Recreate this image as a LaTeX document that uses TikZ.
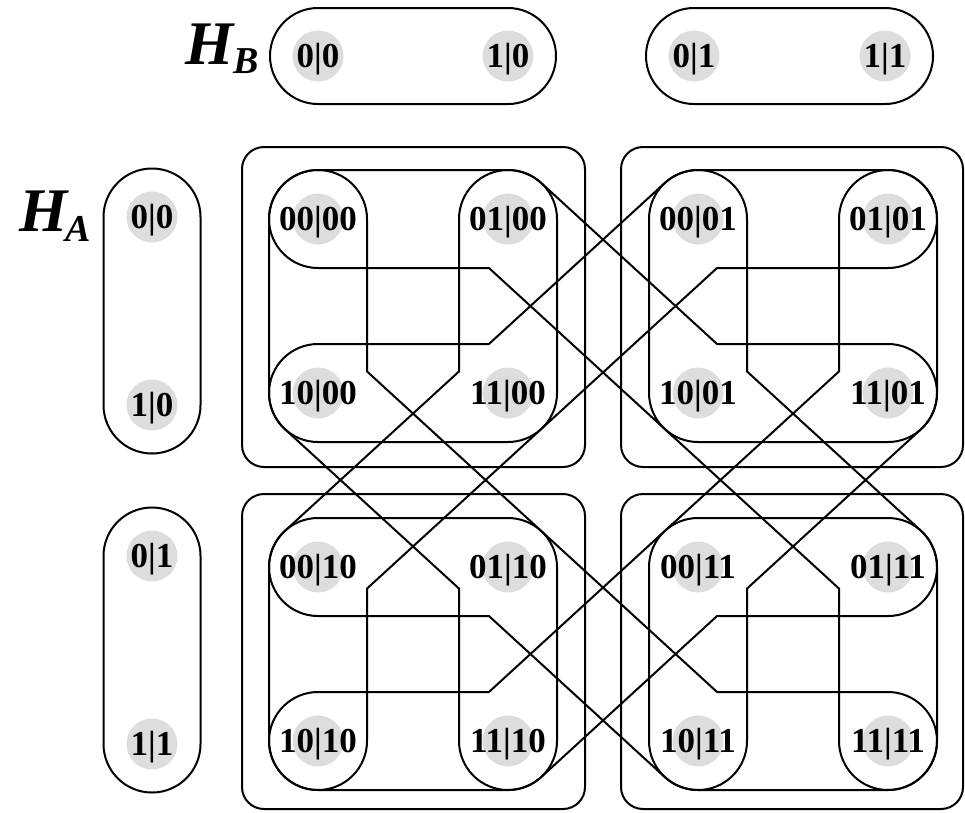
\documentclass[tikz,border=0pt]{standalone}
\usepackage{fontspec}
\setmainfont{Liberation Serif}
\definecolor{stategray}{RGB}{221,221,221}
\begin{document}
\begin{tikzpicture}[x=1pt,y=-1pt,line width=2pt,line join=round,
  lbl/.style={font=\fontsize{35}{35}\selectfont\bfseries,inner sep=0pt,text height=23.5pt,text depth=0pt},
  hlbl/.style={font=\fontsize{62}{62}\selectfont\bfseries\itshape,inner sep=0pt},
  sublbl/.style={font=\fontsize{38}{38}\selectfont\bfseries\itshape,inner sep=0pt},
  block/.style={rounded corners=22pt},
  % band through four states: right, down-right, right
  hband/.pic={\draw (0,-49) -- (190,-49) arc[start angle=-90,end angle=-47.52,radius=49]
     -- (399.05,125) -- (570,125) arc[start angle=-90,end angle=90,radius=49]
     -- (380,223) arc[start angle=90,end angle=132.48,radius=49]
     -- (170.95,49) -- (0,49) arc[start angle=90,end angle=270,radius=49] -- cycle;},
  % band through four states: down, down-right, down
  vband/.pic={\draw (-49,0) -- (-49,174) arc[start angle=180,end angle=132.48,radius=49]
     -- (141,369.57) -- (141,522) arc[start angle=180,end angle=0,radius=49]
     -- (239,348) arc[start angle=0,end angle=-47.52,radius=49]
     -- (49,152.43) -- (49,0) arc[start angle=0,end angle=-180,radius=49] -- cycle;}
]
\useasboundingbox (0,0) rectangle (965,812);

% ---- subsystem B ----
\node[hlbl] (HB) at (210,44) {H};
\node[sublbl] (HBsub) at (246,61) {B};
\foreach \x in {318,508,694,885}{
  \fill[stategray] (\x,56) circle (25.5);
}
\node[lbl] (b00) at (318,56) {0|0};
\node[lbl] (b10) at (508,56) {1|0};
\node[lbl] (b01) at (694,56) {0|1};
\node[lbl] (b11) at (885,56) {1|1};
\draw (318,8) -- (508,8) arc[start angle=-90,end angle=90,radius=48]
  -- (318,104) arc[start angle=90,end angle=270,radius=48] -- cycle;
\draw (694,8) -- (885,8) arc[start angle=-90,end angle=90,radius=48]
  -- (694,104) arc[start angle=90,end angle=270,radius=48] -- cycle;

% ---- subsystem A ----
\node[hlbl] (HA) at (44,211) {H};
\node[sublbl] (HAsub) at (78,229) {A};
\foreach \y in {217,405,556,744}{
  \fill[stategray] (152,\y) circle (25.5);
}
\node[lbl] (a00) at (152,217) {0|0};
\node[lbl] (a10) at (152,405) {1|0};
\node[lbl] (a01) at (152,556) {0|1};
\node[lbl] (a11) at (152,744) {1|1};
\draw (103.5,217) -- (103.5,405) arc[start angle=180,end angle=0,radius=48.5]
  -- (200.5,217) arc[start angle=0,end angle=-180,radius=48.5] -- cycle;
\draw (103.5,556) -- (103.5,744) arc[start angle=180,end angle=0,radius=48.5]
  -- (200.5,556) arc[start angle=0,end angle=-180,radius=48.5] -- cycle;

% ---- joint states ----
\foreach \x in {318,508,698,888}{
  \foreach \y in {219,393,567,741}{
    \fill[stategray] (\x,\y) circle (25.5);
  }
}
\node[lbl] (s0000) at (318,219) {00|00};
\node[lbl] (s0100) at (508,219) {01|00};
\node[lbl] (s1000) at (318,393) {10|00};
\node[lbl] (s1100) at (508,393) {11|00};
\node[lbl] (s0001) at (698,219) {00|01};
\node[lbl] (s0101) at (888,219) {01|01};
\node[lbl] (s1001) at (698,393) {10|01};
\node[lbl] (s1101) at (888,393) {11|01};
\node[lbl] (s0010) at (318,567) {00|10};
\node[lbl] (s0110) at (508,567) {01|10};
\node[lbl] (s1010) at (318,741) {10|10};
\node[lbl] (s1110) at (508,741) {11|10};
\node[lbl] (s0011) at (698,567) {00|11};
\node[lbl] (s0111) at (888,567) {01|11};
\node[lbl] (s1011) at (698,741) {10|11};
\node[lbl] (s1111) at (888,741) {11|11};

% ---- blocks ----
\draw[block] (242,147) rectangle (585,467);
\draw[block] (621,147) rectangle (963,467);
\draw[block] (242,494) rectangle (585,809);
\draw[block] (621,494) rectangle (963,809);

% ---- bands ----
\pic at (318,219) {hband};
\pic[yscale=-1] at (318,393) {hband};
\pic at (318,567) {hband};
\pic[yscale=-1] at (318,741) {hband};
\pic at (318,219) {vband};
\pic[xscale=-1] at (508,219) {vband};
\pic at (698,219) {vband};
\pic[xscale=-1] at (888,219) {vband};
\end{tikzpicture}
\end{document}
